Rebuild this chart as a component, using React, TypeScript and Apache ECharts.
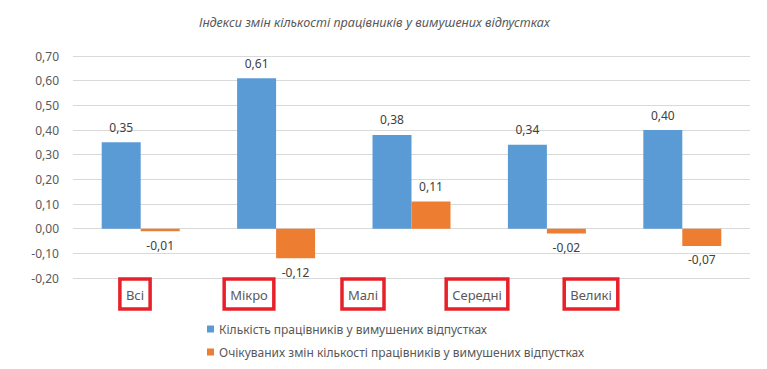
import React, { useEffect, useRef } from "react";
import * as echarts from "echarts";

const categories = ["Всі", "Мікро", "Малі", "Середні", "Великі"];
const seriesNames = [
  "Кількість працівників у вимушених відпустках",
  "Очікуваних змін кількості працівників у вимушених відпустках",
];
const workersValues = [0.35, 0.61, 0.38, 0.34, 0.4];
const expectedValues = [-0.01, -0.12, 0.11, -0.02, -0.07];
const title = "Індекси змін кількості працівників у вимушених відпустках";

const FONT = "Noto Sans";
const fmt = (v: number) => v.toFixed(2).replace(".", ",");

export default function App() {
  const ref = useRef<HTMLDivElement>(null);
  useEffect(() => {
    if (!ref.current) return;
    const chart = echarts.init(ref.current, null, { renderer: "svg" });
    chart.setOption({
      animation: false,
      backgroundColor: "#ffffff",
      title: {
        text: title,
        left: 194,
        top: 11,
        textStyle: {
          fontFamily: FONT,
          fontSize: 12.6,
          fontStyle: "italic",
          fontWeight: "normal",
          color: "#595959",
        },
      },
      legend: {
        orient: "vertical",
        left: 202,
        top: 318,
        itemWidth: 7,
        itemHeight: 7,
        itemGap: 11,
        icon: "rect",
        textStyle: { fontFamily: FONT, fontSize: 12, color: "#595959" },
        data: seriesNames,
      },
      grid: [
        { left: 73, right: 17, top: 56, bottom: 91 },
        { left: 78, right: 119, top: 56, bottom: 91 },
      ],
      xAxis: [
        {
          type: "category",
          data: categories,
          gridIndex: 0,
          axisLine: { show: false },
          axisTick: { show: false },
          axisLabel: { show: false },
        },
        {
          type: "category",
          data: categories,
          gridIndex: 1,
          axisLine: { show: false },
          axisTick: { show: false },
          axisLabel: {
            margin: 1,
            fontFamily: FONT,
            fontSize: 13,
            color: "#595959",
            borderColor: "#e8202a",
            borderWidth: 3.5,
            padding: [9, 6, 8, 6],
          },
        },
      ],
      yAxis: [
        {
          type: "value",
          gridIndex: 0,
          min: -0.2,
          max: 0.7,
          interval: 0.1,
          axisLine: { show: false },
          axisTick: { show: false },
          splitLine: { lineStyle: { color: "#d9d9d9", width: 1 } },
          axisLabel: {
            fontFamily: FONT,
            fontSize: 12,
            color: "#595959",
            margin: 14,
            formatter: (v: number) => fmt(v),
          },
        },
        {
          type: "value",
          gridIndex: 1,
          min: -0.2,
          max: 0.7,
          show: false,
        },
      ],
      series: [
        {
          name: seriesNames[0],
          type: "bar",
          data: workersValues,
          barWidth: "28.8%",
          barGap: "0%",
          itemStyle: { color: "#5b9bd5" },
          label: {
            show: true,
            position: "top",
            distance: 9,
            fontFamily: FONT,
            fontSize: 12,
            color: "#404040",
            formatter: (p: any) => fmt(p.value),
          },
        },
        {
          name: seriesNames[1],
          type: "bar",
          data: expectedValues.map((v) => ({
            value: v,
            label: v < 0 ? { position: "bottom", distance: 8 } : undefined,
          })),
          barWidth: "28.8%",
          barGap: "0%",
          itemStyle: { color: "#ed7d31" },
          label: {
            show: true,
            position: "top",
            distance: 9,
            fontFamily: FONT,
            fontSize: 12,
            color: "#404040",
            formatter: (p: any) => fmt(p.value),
          },
        },
      ],
    });
    return () => chart.dispose();
  }, []);
  return <div ref={ref} style={{ width: 767, height: 369, margin: -8 }} />;
}
